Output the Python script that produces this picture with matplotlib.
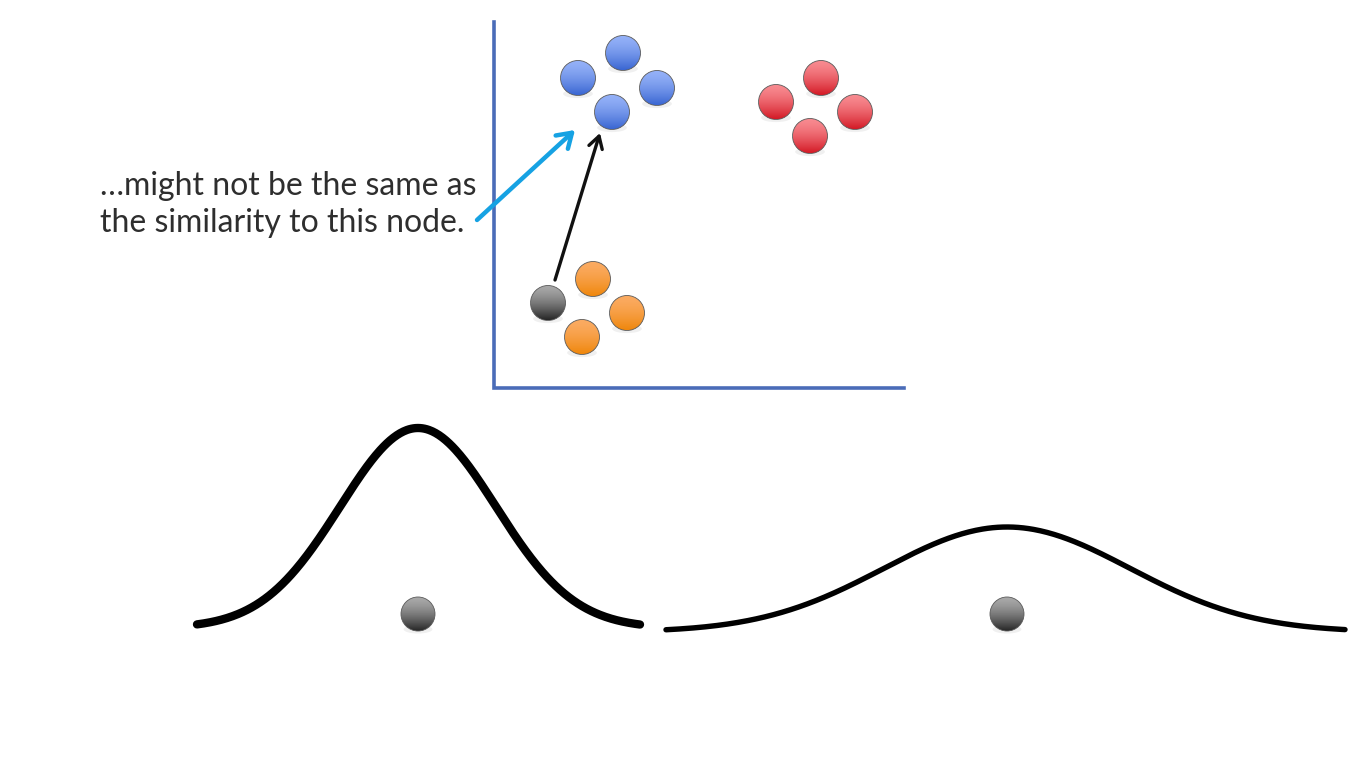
import numpy as np
import matplotlib
matplotlib.use("Agg")
import matplotlib.pyplot as plt
from matplotlib.patches import Circle, Ellipse
from matplotlib.colors import to_rgb

# positions (pixel units, y grows downward)
blue_x = [578, 623, 657, 612]
blue_y = [78, 53, 88, 112]
red_x = [776, 821, 855, 810]
red_y = [102, 78, 112, 136]
orange_x = [593, 627, 582]
orange_y = [279, 313, 337]
query_x = [548]
query_y = [303]

# axes of the small scatter sketch
axis_corner = (494, 388)
axis_top = 22
axis_right = 904

# arrows: (tail, tip)
blue_arrow = [(477, 220), (575, 130)]
black_arrow = [(555, 280), (600, 133)]

# the two bell curves under the sketch
curve_center = [418, 1007]
curve_peak = [428, 527]
curve_base = [628, 632]
curve_sigma = [78, 123]
curve_start = [197, 666]
curve_end = [640, 1345]
curve_lw = [6.0, 3.9]
dot_y = [614, 614]

text_lines = ["\u2026might not be the same as", "the similarity to this node."]
text_y = [195, 232]

R = 17.5
COLORS = {
    "blue": ("#94b1f8", "#3a66d2"),
    "red": ("#f88a90", "#d41a26"),
    "orange": ("#fbab62", "#ef870c"),
    "gray": ("#a8a8a8", "#262626"),
}


def sphere(ax, x, y, r, kind):
    top, bottom = COLORS[kind]
    t = np.linspace(0, 1, 80)[:, None] ** 1.5
    img = np.array(to_rgb(top))[None, None, :] * (1 - t[..., None]) + \
        np.array(to_rgb(bottom))[None, None, :] * t[..., None]
    # soft shadow
    ax.add_patch(Ellipse((x, y + r * 0.9), r * 1.7, r * 0.5, color="#000000",
                         alpha=0.06, lw=0, zorder=2))
    im = ax.imshow(img, extent=(x - r, x + r, y + r, y - r), interpolation="bilinear",
                   zorder=3, aspect="auto")
    c = Circle((x, y), r, facecolor="none", edgecolor="#5a5a5a", lw=0.6, zorder=4)
    ax.add_patch(c)
    im.set_clip_path(c)


fig = plt.figure(figsize=(13.66, 7.68), dpi=100)
ax = fig.add_axes([0, 0, 1, 1])
ax.set_axis_off()

# L-shaped axes
ax.plot([axis_corner[0], axis_corner[0], axis_right],
        [axis_top, axis_corner[1], axis_corner[1]],
        color="#4a6cb8", lw=2.6, solid_joinstyle="miter", zorder=1)

for x, y in zip(blue_x, blue_y):
    sphere(ax, x, y, R, "blue")
for x, y in zip(red_x, red_y):
    sphere(ax, x, y, R, "red")
for x, y in zip(orange_x, orange_y):
    sphere(ax, x, y, R, "orange")
for x, y in zip(query_x, query_y):
    sphere(ax, x, y, R, "gray")

ax.annotate("", xy=blue_arrow[1], xytext=blue_arrow[0],
            arrowprops=dict(arrowstyle="->,head_length=1.0,head_width=0.65",
                            color="#16a2e3", lw=3.2, shrinkA=0, shrinkB=0),
            zorder=5)
ax.annotate("", xy=black_arrow[1], xytext=black_arrow[0],
            arrowprops=dict(arrowstyle="->,head_length=0.85,head_width=0.5",
                            color="#111111", lw=2.4, shrinkA=0, shrinkB=0),
            zorder=5)

for s, y in zip(text_lines, text_y):
    ax.text(100, y, s, fontsize=23, family=["Lato", "DejaVu Sans"],
            color="#2e2e2e", va="baseline", ha="left")

# bell curves with a node under each peak
for i in range(2):
    xs = np.linspace(curve_start[i], curve_end[i], 400)
    amp = curve_base[i] - curve_peak[i]
    ys = curve_base[i] - amp * np.exp(-0.5 * ((xs - curve_center[i]) / curve_sigma[i]) ** 2)
    ax.plot(xs, ys, color="#000000", lw=curve_lw[i], solid_capstyle="round", zorder=2)
    sphere(ax, curve_center[i], dot_y[i], R - 0.5, "gray")

ax.set_xlim(0, 1366)
ax.set_ylim(768, 0)
fig.savefig("out.png", dpi=100, facecolor="white")
